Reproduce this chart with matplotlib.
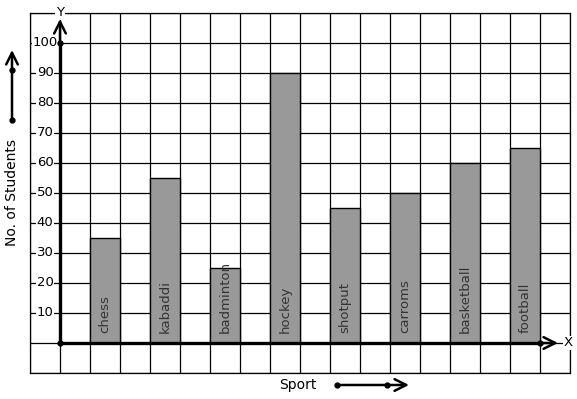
import matplotlib.pyplot as plt
from matplotlib.patches import FancyArrowPatch
import numpy as np

# data
sports = ["chess", "kabaddi", "badminton", "hockey", "shotput", "carroms", "basketball", "football"]
students = [35, 55, 25, 90, 45, 50, 60, 65]
y_ticks = [10, 20, 30, 40, 50, 60, 70, 80, 90, 100]

W, H = 577, 399
fig = plt.figure(figsize=(W / 100, H / 100), dpi=100)
ax = fig.add_axes([30 / W, 26 / H, 540 / W, 360 / H])

# grid: one cell = 1 unit on x, 10 units on y
ax.set_xlim(-1, 17)
ax.set_ylim(-10, 110)
ax.set_xticks(np.arange(-1, 18))
ax.set_yticks(np.arange(-10, 111, 10))
ax.grid(True, color="black", lw=0.9)
ax.tick_params(length=0, labelbottom=False, labelleft=False)
for s in ax.spines.values():
    s.set_linewidth(0.9)
ax.set_axisbelow(True)

# bars, one cell wide, every other cell
pos = np.arange(len(sports)) * 2 + 1.5
ax.bar(pos, students, width=1, color="#999999", edgecolor="black", lw=1, zorder=2)
for x, name in zip(pos, sports):
    ax.text(x, 3.3, name, rotation=90, ha="center", va="bottom",
            fontsize=9.5, color="#333333", zorder=3)

# y tick labels sit on the grid lines with a white background
for v in y_ticks:
    ax.text(-0.5, v, str(v), ha="center", va="center", fontsize=9.5,
            bbox=dict(facecolor="white", edgecolor="none", pad=0.5), zorder=3)

# axes lines and open arrow heads
head = "->,head_length=0.7,head_width=0.35"
ax.plot([0, 0], [0, 100], color="black", lw=2.4, zorder=4)
ax.plot([0, 16], [0, 0], color="black", lw=2.4, zorder=4)
ax.annotate("", xy=(0, 108), xytext=(0, 100),
            arrowprops=dict(arrowstyle=head, lw=1.8, color="black", mutation_scale=12,
                            shrinkA=0, shrinkB=0), zorder=4)
ax.annotate("", xy=(16.6, 0), xytext=(16, 0),
            arrowprops=dict(arrowstyle=head, lw=1.8, color="black", mutation_scale=12,
                            shrinkA=0, shrinkB=0), zorder=4)
ax.plot([0, 0, 16], [0, 100, 0], "o", color="black", ms=3.5, zorder=5, clip_on=False)
ax.text(0, 110, "Y", ha="center", va="center", fontsize=9.5,
        bbox=dict(facecolor="white", edgecolor="none", pad=0.5), zorder=5, clip_on=False)
ax.text(16.93, 0, "X", ha="center", va="center", fontsize=9.5,
        bbox=dict(facecolor="white", edgecolor="none", pad=0.5), zorder=5, clip_on=False)

# axis titles with their little direction arrows
fig.text(12 / W, 1 - 193 / H, "No. of Students", rotation=90, ha="center", va="center", fontsize=10)
fig.text(298 / W, 1 - 385 / H, "Sport", ha="center", va="center", fontsize=10)

arrow_style = dict(arrowstyle=head, lw=1.8, color="black", mutation_scale=12,
                   shrinkA=0, shrinkB=0)
fig.add_artist(FancyArrowPatch((12, H - 120), (12, H - 50), transform=None, **arrow_style))
fig.add_artist(FancyArrowPatch((337, H - 385), (409, H - 385), transform=None, **arrow_style))
fig.add_artist(plt.Line2D([12, 12], [H - 120, H - 70], marker="o", ms=3.5, lw=0,
               color="black", transform=None))
fig.add_artist(plt.Line2D([337, 387], [H - 385, H - 385], marker="o", ms=3.5, lw=0,
               color="black", transform=None))

fig.savefig("out.png", dpi=100)
